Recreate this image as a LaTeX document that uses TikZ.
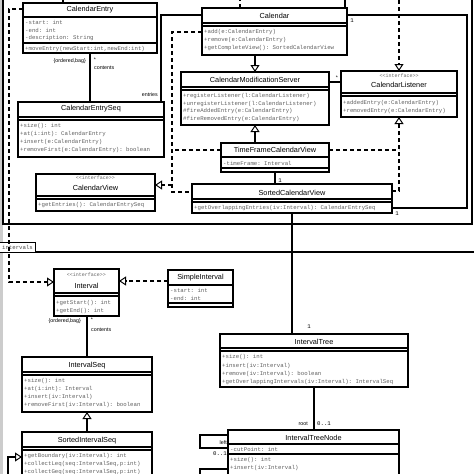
\documentclass[tikz,border=0pt]{standalone}
\usepackage{fontspec}
\setsansfont{Liberation Sans}
\setmonofont{Liberation Mono}
\usetikzlibrary{arrows.meta}

\tikzset{
  cls/.style={draw, line width=1.1pt, fill=white, inner sep=0pt, outer sep=0pt, anchor=north west},
  ttl/.style={font=\fontsize{7.3}{8}\selectfont\sffamily, inner sep=0pt},
  mem/.style={font=\fontsize{5.7}{6}\selectfont\ttfamily, text=black!62, anchor=west, inner sep=0pt},
  ster/.style={font=\fontsize{5}{6}\selectfont\ttfamily, text=black!60, inner sep=0pt},
  lbl/.style={font=\fontsize{5.3}{6}\selectfont\sffamily, inner sep=0pt},
  mult/.style={font=\fontsize{5.7}{6}\selectfont\ttfamily, inner sep=0pt},
  sepline/.style={line width=1.1pt},
  assoc/.style={line width=1.1pt},
  dline/.style={line width=1.5pt, dash pattern=on 4pt off 3pt},
  realize/.style={dline, -{Triangle[open, length=7pt, width=9pt, line width=1pt, fill=white]}},
  gen/.style={assoc, -{Triangle[open, length=7pt, width=9pt, line width=1pt, fill=white]}}
}

\begin{document}
\begin{tikzpicture}[x=1pt, y=-1pt]

\useasboundingbox (0,0) rectangle (474,474);
\clip (0,0) rectangle (474,474);

% package frames
\fill[black!20] (0,0) rectangle (3,474);
\draw[sepline] (3,0) -- (3,224) -- (472,224) -- (472,0);
\draw[sepline] (0,252) -- (474,252);
\node[draw, line width=1.1pt, fill=white, minimum width=36pt, minimum height=10pt, inner sep=0pt, anchor=north west] (pkg) at (-1,242) {};
\node[mult, text=black!70] (pkgT) at (17.5,247) {intervals};

% CalendarEntry
\node[cls, minimum width=134pt, minimum height=50pt] (centry) at (23,3) {};
\node[ttl] (centryT) at (90,10) {CalendarEntry};
\draw[sepline] (23,17) -- (157,17);
\node[mem] (centryA1) at (25,22) {-start: int};
\node[mem] (centryA2) at (25,30) {-end: int};
\node[mem] (centryA3) at (25,38) {-description: String};
\draw[sepline] (23,43) -- (157,43);
\node[mem] (centryM1) at (25,49) {+moveEntry(newStart:int,newEnd:int)};

% CalendarEntrySeq
\node[cls, minimum width=146pt, minimum height=55pt] (ceseq) at (18,102) {};
\node[ttl] (ceseqT) at (91,109) {CalendarEntrySeq};
\draw[sepline] (18,117) -- (164,117);
\draw[sepline] (18,120) -- (164,120);
\node[mem] (ceseqM1) at (20,126) {+size(): int};
\node[mem] (ceseqM2) at (20,134) {+at(i:int): CalendarEntry};
\node[mem] (ceseqM3) at (20,142) {+insert(e:CalendarEntry)};
\node[mem] (ceseqM4) at (20,150) {+removeFirst(e:CalendarEntry): boolean};

% Calendar
\node[cls, minimum width=145pt, minimum height=47pt] (cal) at (202,8) {};
\node[ttl] (calT) at (274.5,16) {Calendar};
\draw[sepline] (202,23) -- (347,23);
\draw[sepline] (202,26) -- (347,26);
\node[mem] (calM1) at (204,32) {+add(e:CalendarEntry)};
\node[mem] (calM2) at (204,40) {+remove(e:CalendarEntry)};
\node[mem] (calM3) at (204,48) {+getCompleteView(): SortedCalendarView};

% CalendarModificationServer
\node[cls, minimum width=148pt, minimum height=53pt] (cms) at (181,72) {};
\node[ttl] (cmsT) at (255,80) {CalendarModificationServer};
\draw[sepline] (181,87) -- (329,87);
\draw[sepline] (181,90) -- (329,90);
\node[mem] (cmsM1) at (183,96) {+registerListener(l:CalendarListener)};
\node[mem] (cmsM2) at (183,104) {+unregisterListener(l:CalendarListener)};
\node[mem] (cmsM3) at (183,111) {\#fireAddedEntry(e:CalendarEntry)};
\node[mem] (cmsM4) at (183,119) {\#fireRemovedEntry(e:CalendarEntry)};

% CalendarListener
\node[cls, minimum width=116pt, minimum height=46pt] (clist) at (341,71) {};
\node[ster] (clistS) at (399,76) {<<interface>>};
\node[ttl] (clistT) at (399,85) {CalendarListener};
\draw[sepline] (341,93) -- (457,93);
\draw[sepline] (341,96) -- (457,96);
\node[mem] (clistM1) at (343,103) {+addedEntry(e:CalendarEntry)};
\node[mem] (clistM2) at (343,111) {+removedEntry(e:CalendarEntry)};

% TimeFrameCalendarView
\node[cls, minimum width=108pt, minimum height=29pt] (tfcv) at (221,143) {};
\node[ttl] (tfcvT) at (275,150) {TimeFrameCalendarView};
\draw[sepline] (221,157) -- (329,157);
\node[mem] (tfcvA1) at (223,163) {-timeFrame: Interval};
\draw[sepline] (221,168) -- (329,168);

% CalendarView
\node[cls, minimum width=119pt, minimum height=37pt] (cview) at (36,174) {};
\node[ster] (cviewS) at (95.5,178) {<<interface>>};
\node[ttl] (cviewT) at (95.5,188) {CalendarView};
\draw[sepline] (36,196) -- (155,196);
\draw[sepline] (36,199) -- (155,199);
\node[mem] (cviewM1) at (38,205) {+getEntries(): CalendarEntrySeq};

% SortedCalendarView
\node[cls, minimum width=200pt, minimum height=29pt] (scv) at (192,184) {};
\node[ttl] (scvT) at (292,193) {SortedCalendarView};
\draw[sepline] (192,199) -- (392,199);
\draw[sepline] (192,202) -- (392,202);
\node[mem] (scvM1) at (194,208) {+getOverlappingEntries(iv:Interval): CalendarEntrySeq};

% Interval
\node[cls, minimum width=65pt, minimum height=47pt] (ival) at (54,269) {};
\node[ster] (ivalS) at (86.5,275) {<<interface>>};
\node[ttl] (ivalT) at (86.5,286) {Interval};
\draw[sepline] (54,293) -- (119,293);
\draw[sepline] (54,296) -- (119,296);
\node[mem] (ivalM1) at (56,303) {+getStart(): int};
\node[mem] (ivalM2) at (56,311) {+getEnd(): int};

% SimpleInterval
\node[cls, minimum width=65pt, minimum height=37pt] (sival) at (168,270) {};
\node[ttl] (sivalT) at (200.5,278) {SimpleInterval};
\draw[sepline] (168,285) -- (233,285);
\node[mem] (sivalA1) at (170,290) {-start: int};
\node[mem] (sivalA2) at (170,298) {-end: int};
\draw[sepline] (168,303) -- (233,303);

% IntervalSeq
\node[cls, minimum width=130pt, minimum height=55pt] (iseq) at (22,357) {};
\node[ttl] (iseqT) at (87,366) {IntervalSeq};
\draw[sepline] (22,372) -- (152,372);
\draw[sepline] (22,375) -- (152,375);
\node[mem] (iseqM1) at (24,381) {+size(): int};
\node[mem] (iseqM2) at (24,389) {+at(i:int): Interval};
\node[mem] (iseqM3) at (24,397) {+insert(iv:Interval)};
\node[mem] (iseqM4) at (24,405) {+removeFirst(iv:Interval): boolean};

% SortedIntervalSeq
\node[cls, minimum width=130pt, minimum height=58pt] (siseq) at (22,432) {};
\node[ttl] (siseqT) at (87,441) {SortedIntervalSeq};
\draw[sepline] (22,447) -- (152,447);
\draw[sepline] (22,450) -- (152,450);
\node[mem] (siseqM1) at (24,456) {+getBoundary(iv:Interval): int};
\node[mem] (siseqM2) at (24,464) {+collectLeq(seq:IntervalSeq,p:int)};
\node[mem] (siseqM3) at (24,472) {+collectGeq(seq:IntervalSeq,p:int)};

% IntervalTree
\node[cls, minimum width=188pt, minimum height=53pt] (itree) at (220,334) {};
\node[ttl] (itreeT) at (314,342) {IntervalTree};
\draw[sepline] (220,348) -- (408,348);
\draw[sepline] (220,351) -- (408,351);
\node[mem] (itreeM1) at (222,357) {+size(): int};
\node[mem] (itreeM2) at (222,366) {+insert(iv:Interval)};
\node[mem] (itreeM3) at (222,374) {+remove(iv:Interval): boolean};
\node[mem] (itreeM4) at (222,382) {+getOverlappingIntervals(iv:Interval): IntervalSeq};

% IntervalTreeNode
\node[cls, minimum width=171pt, minimum height=60pt] (inode) at (228,430) {};
\node[ttl] (inodeT) at (313.5,438) {IntervalTreeNode};
\draw[sepline] (228,444) -- (399,444);
\node[mem] (inodeA1) at (230,449) {-cutPoint: int};
\draw[sepline] (228,454) -- (399,454);
\node[mem] (inodeM1) at (230,460) {+size(): int};
\node[mem] (inodeM2) at (230,468) {+insert(iv:Interval)};

% loose ends leaving the picture
\coordinate (topA) at (63,0);
\coordinate (topB) at (240,0);
\coordinate (topC) at (345,0);
\coordinate (topD) at (399,0);
\coordinate (botA) at (8,480);
\coordinate (botB) at (200,480);

% connectors, calendar package
\draw[assoc] (centry.north -| topA) -- (topA);
\draw[dline] (cal.north -| topB) -- (topB);
\draw[assoc] (cal.north -| topC) -- (topC);
\draw[realize] (topD) -- (clist.north -| topD);
\draw[assoc] (centry.south -| 90,0) -- (ceseq.north -| 90,0);
\draw[assoc] (cal.west |- 0,15) -| (ceseq.north -| 161,0);
\draw[assoc] (cal.east |- 0,15) -| (467,208) -- (scv.east |- 0,208);
\draw[gen] (cal.south -| 255,0) -- (cms.north -| 255,0);
\draw[gen] (tfcv.north -| 255,0) -- (cms.south -| 255,0);
\draw[assoc] (clist.west |- 0,82) -- (cms.east |- 0,82);
\draw[assoc] (tfcv.south -| 275,0) -- (scv.north -| 275,0);
\draw[dline] (tfcv.east |- 0,150) -- (399,150);
\draw[realize] (scv.east |- 0,191) -| (clist.south -| 399,0);
\draw[dline] (cal.west |- 0,32) -| (172,192) -- (scv.west |- 0,192);
\draw[dline] (tfcv.west |- 0,150) -- (172,150);
\draw[realize] (172,185) -- (cview.east |- 0,185);

% connectors, intervals package
\draw[realize] (centry.west |- 0,9) -| (9,282) -- (ival.west |- 0,282);
\draw[realize] (sival.west |- 0,281) -- (ival.east |- 0,281);
\draw[assoc] (scv.south -| 292,0) -- (itree.north -| 292,0);
\draw[assoc] (ival.south -| 87,0) -- (iseq.north -| 87,0);
\draw[gen] (siseq.north -| 87,0) -- (iseq.south -| 87,0);
\draw[gen] (botA) |- (siseq.west |- 0,457);
\draw[assoc] (itree.south -| 314,0) -- (inode.north -| 314,0);
\draw[assoc] (inode.west |- 0,435) -| (200,448) -- (inode.west |- 0,448);
\draw[assoc] (inode.west |- 0,469) -| (botB);

% labels
\node[lbl, anchor=east] (ordA) at (86,61) {\{ordered,bag\}};
\node[lbl] (starA) at (95,60) {*};
\node[lbl, anchor=west] (contA) at (94,68) {contents};
\node[lbl, anchor=east] (entr) at (158,95) {entries};
\node[mult] (oneA) at (352,21) {1};
\node[mult] (oneB) at (397,214) {1};
\node[lbl] (starB) at (337,78) {*};
\node[mult] (oneC) at (280,181) {1};
\node[mult] (oneD) at (309,327) {1};
\node[lbl, anchor=east] (ordB) at (81,321) {\{ordered,bag\}};
\node[lbl] (starC) at (92,320) {*};
\node[lbl, anchor=west] (contB) at (91,330) {contents};
\node[lbl, anchor=east] (root) at (308,424) {root};
\node[mult, anchor=west] (rootM) at (317,424) {0..1};
\node[lbl, anchor=east] (left) at (227,443) {left};
\node[mult, anchor=east] (leftM) at (227,454) {0..1};

\end{tikzpicture}
\end{document}
